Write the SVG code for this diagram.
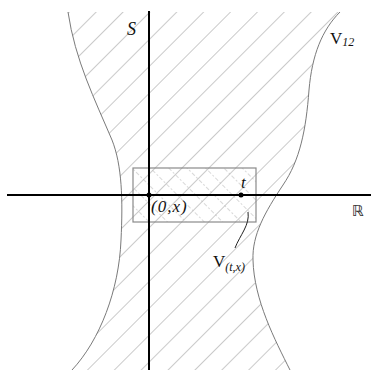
<svg xmlns="http://www.w3.org/2000/svg" width="371" height="370" viewBox="0 0 371 370">
<style>
.bd{fill:none;stroke:#7a7a7a;stroke-width:1}
.ax{stroke:#000;stroke-width:2}
.lb{font-family:"Liberation Serif","DejaVu Serif",serif;fill:#111}
.it{font-style:italic}
</style>
<defs>
<pattern id="h1" patternUnits="userSpaceOnUse" width="19" height="10" patternTransform="rotate(45)">
<line x1="0" y1="0" x2="0" y2="10" stroke="#adadad" stroke-width="1.3"/>
</pattern>
<pattern id="h2" patternUnits="userSpaceOnUse" width="13" height="10" patternTransform="rotate(-45)">
<line x1="0" y1="0" x2="0" y2="10" stroke="#b8b8b8" stroke-width="1.1" stroke-dasharray="2 2"/>
</pattern>
<clipPath id="reg">
<path d="M68,12 C75,60 95,100 112,140 C122,165 123,200 121,240 C119,290 100,340 72,370 L290,370 C275,340 254,300 253,260 C252,235 265,212 283,185 C300,160 306,130 309,90 C312,55 322,30 340,12 Z"/>
</clipPath>
</defs>
<g id="region">
<path d="M68,12 C75,60 95,100 112,140 C122,165 123,200 121,240 C119,290 100,340 72,370 L290,370 C275,340 254,300 253,260 C252,235 265,212 283,185 C300,160 306,130 309,90 C312,55 322,30 340,12 Z" fill="url(#h1)"/>
<rect x="133" y="168" width="123" height="54" fill="url(#h2)" clip-path="url(#reg)"/>
<path class="bd" d="M68,12 C75,60 95,100 112,140 C122,165 123,200 121,240 C119,290 100,340 72,370"/>
<path class="bd" d="M340,12 C322,30 312,55 309,90 C306,130 300,160 283,185 C265,212 252,235 253,260 C254,300 275,340 290,370"/>
<text class="lb" x="330" y="44" font-size="17">V<tspan class="it" font-size="12" dy="2">12</tspan></text>
</g>
<g id="neighbourhood">
<rect x="133" y="168" width="123" height="54" fill="none" stroke="#8a8a8a" stroke-width="1.2"/>
<text class="lb" x="213" y="267" font-size="17">V<tspan class="it" font-size="12" dy="4">(t,x)</tspan></text>
</g>
<g id="axes">
<line class="ax" x1="7" y1="195" x2="371" y2="195"/>
<line class="ax" x1="149" y1="11" x2="149" y2="370"/>
<text class="lb it" x="127" y="35" font-size="18">S</text>
<text x="352" y="216" font-family="DejaVu Sans,sans-serif" font-size="15" fill="#333">ℝ</text>
</g>
<g id="point-origin">
<circle cx="149" cy="195" r="2.5" fill="#000"/>
<text class="lb it" x="151" y="212" font-size="17" letter-spacing="1">(0,x)</text>
</g>
<g id="point-t">
<circle cx="241" cy="195" r="2.5" fill="#000"/>
<text class="lb it" x="241" y="188" font-size="17">t</text>
</g>
<g id="connectors">
<path d="M248,212 C250,225 240,235 235,248" fill="none" stroke="#222" stroke-width="1"/>
</g>
</svg>
